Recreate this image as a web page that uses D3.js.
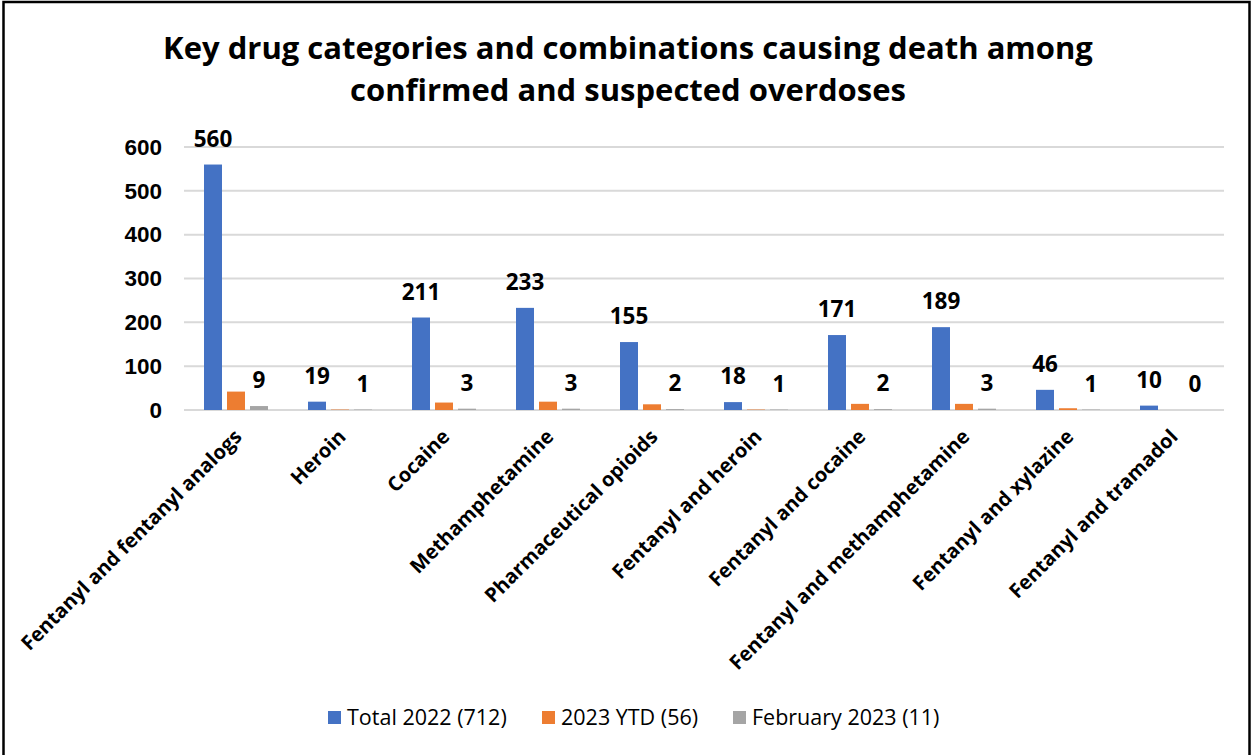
<!DOCTYPE html>
<html>
<head>
<meta charset="utf-8">
<script src="https://cdn.jsdelivr.net/npm/d3@7"></script>
<style>
  body { margin: 0; background: #fff; }
  svg { display: block; font-family: "Open Sans", "Noto Sans", sans-serif; }
  .axis path, .axis line { display: none; }
  .axis text { font-weight: bold; font-size: 22.5px; fill: #000; }
</style>
</head>
<body>
<div class="main"></div>
<script>
const svgWidth = 1252,
    svgHeight = 755,
    margin = {top: 147, left: 184},
    width = 1040,
    height = 263;

// data
const categories = [
  "Fentanyl and fentanyl analogs", "Heroin", "Cocaine", "Methamphetamine",
  "Pharmaceutical opioids", "Fentanyl and heroin", "Fentanyl and cocaine",
  "Fentanyl and methamphetamine", "Fentanyl and xylazine", "Fentanyl and tramadol"
];
const seriesNames = ["Total 2022 (712)", "2023 YTD (56)", "February 2023 (11)"];
const total2022 = [560, 19, 211, 233, 155, 18, 171, 189, 46, 10];
const ytd2023 = [42, 1, 17, 19, 13, 1, 14, 14, 4, 0];
const feb2023 = [9, 1, 3, 3, 2, 1, 2, 3, 1, 0];
const yTicks = [0, 100, 200, 300, 400, 500, 600];
const colors = ["#4472C4", "#ED7D31", "#A5A5A5"];
const labelled = [true, false, true];

const seriesValues = [total2022, ytd2023, feb2023];

let svg = d3.select("body>.main").append("svg")
    .attr("width", svgWidth)
    .attr("height", svgHeight);

// frame
svg.append("rect")
    .attr("x", 3.5).attr("y", 2)
    .attr("width", 1246).attr("height", 780)
    .style("fill", "none")
    .style("stroke", "#000")
    .style("stroke-width", 2.5);

// title
svg.append("text")
    .attr("text-anchor", "middle")
    .style("font-weight", "bold")
    .style("font-size", "31px")
    .selectAll("tspan")
    .data(["Key drug categories and combinations causing death among", "confirmed and suspected overdoses"])
  .enter().append("tspan")
    .attr("x", 628)
    .attr("y", (d, i) => 59 + i * 42)
    .text(d => d);

let g = svg.append("g")
    .attr("transform", "translate(" + margin.left + "," + margin.top + ")");

let x = d3.scaleBand().domain(categories).range([0, width]),
    xInner = d3.scaleBand().domain(d3.range(3)).range([20, 84]).paddingInner(5 / 23),
    y = d3.scaleLinear().domain([0, 600]).range([height, 0]);

// gridlines
g.append("g").attr("class", "grid")
  .selectAll("line")
  .data(yTicks)
  .enter().append("line")
    .attr("x1", 0).attr("x2", width)
    .attr("y1", d => y(d)).attr("y2", d => y(d))
    .style("stroke", "#d9d9d9")
    .style("stroke-width", 2);

// y axis
g.append("g")
    .attr("class", "y axis")
    .attr("transform", "translate(-22,0)")
    .call(d3.axisLeft(y).tickValues(yTicks).tickSize(0).tickPadding(0));

// bars
let groups = g.selectAll(".cat")
    .data(categories)
  .enter().append("g")
    .attr("class", "cat")
    .attr("transform", d => "translate(" + x(d) + ",0)");

groups.selectAll("rect")
    .data((d, i) => seriesValues.map((s, k) => ({k: k, v: s[i]})))
  .enter().append("rect")
    .attr("x", d => xInner(d.k))
    .attr("width", xInner.bandwidth())
    .attr("y", d => y(d.v))
    .attr("height", d => height - y(d.v))
    .style("fill", d => colors[d.k]);

groups.selectAll(".val")
    .data((d, i) => seriesValues.map((s, k) => ({k: k, v: s[i]})).filter(d => labelled[d.k]))
  .enter().append("text")
    .attr("class", "val")
    .attr("x", d => xInner(d.k) + xInner.bandwidth() / 2)
    .attr("y", d => y(d.v) - 18)
    .attr("text-anchor", "middle")
    .style("font-weight", "bold")
    .style("font-size", "22.5px")
    .text(d => d.v);

// x labels
g.append("g").attr("class", "xlabels")
  .selectAll("text")
  .data(categories)
  .enter().append("text")
    .attr("transform", d => "translate(" + (x(d) + x.bandwidth() / 2 + 2) + "," + (height + 23) + ") rotate(-45)")
    .attr("text-anchor", "end")
    .attr("dy", "0.35em")
    .style("font-weight", "bold")
    .style("font-size", "20px")
    .text(d => d);

// legend
const legendX = [328, 542, 733];
let legend = svg.append("g").attr("class", "legend")
  .selectAll(".legend__item")
  .data(seriesNames)
  .enter().append("g")
    .attr("class", "legend__item")
    .attr("transform", (d, i) => "translate(" + legendX[i] + ",717)");

legend.append("rect")
    .attr("x", 0).attr("y", -6)
    .attr("width", 13).attr("height", 13)
    .style("fill", (d, i) => colors[i]);

legend.append("text")
    .attr("x", 19)
    .attr("dy", "0.36em")
    .style("font-size", "21.5px")
    .style("fill", "#000")
    .text(d => d);
</script>
</body>
</html>
